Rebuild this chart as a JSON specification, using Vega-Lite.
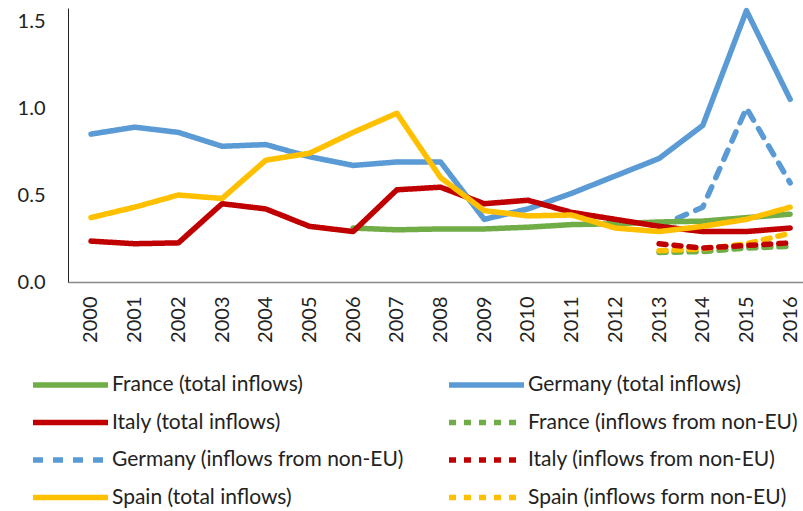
{
  "$schema": "https://vega.github.io/schema/vega-lite/v6.json",
  "width": 735,
  "height": 274,
  "autosize": {"type": "none"},
  "padding": {"left": 68, "top": 8, "right": 0, "bottom": 229},
  "background": "white",
  "config": {
    "view": {"stroke": null},
    "font": "Lato",
    "axis": {"labelFont": "Lato", "labelColor": "#222", "grid": false, "ticks": false, "title": null}
  },
  "data": {
    "values": [
      {"year": 2000, "series": "Germany (total inflows)", "value": 0.85},
      {"year": 2001, "series": "Germany (total inflows)", "value": 0.89},
      {"year": 2002, "series": "Germany (total inflows)", "value": 0.86},
      {"year": 2003, "series": "Germany (total inflows)", "value": 0.78},
      {"year": 2004, "series": "Germany (total inflows)", "value": 0.79},
      {"year": 2005, "series": "Germany (total inflows)", "value": 0.72},
      {"year": 2006, "series": "Germany (total inflows)", "value": 0.67},
      {"year": 2007, "series": "Germany (total inflows)", "value": 0.69},
      {"year": 2008, "series": "Germany (total inflows)", "value": 0.69},
      {"year": 2009, "series": "Germany (total inflows)", "value": 0.36},
      {"year": 2010, "series": "Germany (total inflows)", "value": 0.42},
      {"year": 2011, "series": "Germany (total inflows)", "value": 0.51},
      {"year": 2012, "series": "Germany (total inflows)", "value": 0.61},
      {"year": 2013, "series": "Germany (total inflows)", "value": 0.71},
      {"year": 2014, "series": "Germany (total inflows)", "value": 0.90},
      {"year": 2015, "series": "Germany (total inflows)", "value": 1.56},
      {"year": 2016, "series": "Germany (total inflows)", "value": 1.05},

      {"year": 2013, "series": "Germany (inflows from non-EU)", "value": 0.32},
      {"year": 2014, "series": "Germany (inflows from non-EU)", "value": 0.43},
      {"year": 2015, "series": "Germany (inflows from non-EU)", "value": 1.0},
      {"year": 2016, "series": "Germany (inflows from non-EU)", "value": 0.57},

      {"year": 2006, "series": "France (total inflows)", "value": 0.31},
      {"year": 2007, "series": "France (total inflows)", "value": 0.30},
      {"year": 2008, "series": "France (total inflows)", "value": 0.305},
      {"year": 2009, "series": "France (total inflows)", "value": 0.305},
      {"year": 2010, "series": "France (total inflows)", "value": 0.315},
      {"year": 2011, "series": "France (total inflows)", "value": 0.33},
      {"year": 2012, "series": "France (total inflows)", "value": 0.335},
      {"year": 2013, "series": "France (total inflows)", "value": 0.345},
      {"year": 2014, "series": "France (total inflows)", "value": 0.35},
      {"year": 2015, "series": "France (total inflows)", "value": 0.37},
      {"year": 2016, "series": "France (total inflows)", "value": 0.39},

      {"year": 2000, "series": "Italy (total inflows)", "value": 0.235},
      {"year": 2001, "series": "Italy (total inflows)", "value": 0.22},
      {"year": 2002, "series": "Italy (total inflows)", "value": 0.225},
      {"year": 2003, "series": "Italy (total inflows)", "value": 0.45},
      {"year": 2004, "series": "Italy (total inflows)", "value": 0.42},
      {"year": 2005, "series": "Italy (total inflows)", "value": 0.32},
      {"year": 2006, "series": "Italy (total inflows)", "value": 0.29},
      {"year": 2007, "series": "Italy (total inflows)", "value": 0.53},
      {"year": 2008, "series": "Italy (total inflows)", "value": 0.545},
      {"year": 2009, "series": "Italy (total inflows)", "value": 0.45},
      {"year": 2010, "series": "Italy (total inflows)", "value": 0.47},
      {"year": 2011, "series": "Italy (total inflows)", "value": 0.40},
      {"year": 2012, "series": "Italy (total inflows)", "value": 0.36},
      {"year": 2013, "series": "Italy (total inflows)", "value": 0.32},
      {"year": 2014, "series": "Italy (total inflows)", "value": 0.29},
      {"year": 2015, "series": "Italy (total inflows)", "value": 0.29},
      {"year": 2016, "series": "Italy (total inflows)", "value": 0.31},

      {"year": 2000, "series": "Spain (total inflows)", "value": 0.37},
      {"year": 2001, "series": "Spain (total inflows)", "value": 0.43},
      {"year": 2002, "series": "Spain (total inflows)", "value": 0.50},
      {"year": 2003, "series": "Spain (total inflows)", "value": 0.48},
      {"year": 2004, "series": "Spain (total inflows)", "value": 0.70},
      {"year": 2005, "series": "Spain (total inflows)", "value": 0.74},
      {"year": 2006, "series": "Spain (total inflows)", "value": 0.86},
      {"year": 2007, "series": "Spain (total inflows)", "value": 0.97},
      {"year": 2008, "series": "Spain (total inflows)", "value": 0.60},
      {"year": 2009, "series": "Spain (total inflows)", "value": 0.41},
      {"year": 2010, "series": "Spain (total inflows)", "value": 0.38},
      {"year": 2011, "series": "Spain (total inflows)", "value": 0.385},
      {"year": 2012, "series": "Spain (total inflows)", "value": 0.31},
      {"year": 2013, "series": "Spain (total inflows)", "value": 0.29},
      {"year": 2014, "series": "Spain (total inflows)", "value": 0.32},
      {"year": 2015, "series": "Spain (total inflows)", "value": 0.36},
      {"year": 2016, "series": "Spain (total inflows)", "value": 0.43},

      {"year": 2013, "series": "France (inflows from non-EU)", "value": 0.17},
      {"year": 2014, "series": "France (inflows from non-EU)", "value": 0.175},
      {"year": 2015, "series": "France (inflows from non-EU)", "value": 0.195},
      {"year": 2016, "series": "France (inflows from non-EU)", "value": 0.205},

      {"year": 2013, "series": "Spain (inflows form non-EU)", "value": 0.18},
      {"year": 2014, "series": "Spain (inflows form non-EU)", "value": 0.19},
      {"year": 2015, "series": "Spain (inflows form non-EU)", "value": 0.22},
      {"year": 2016, "series": "Spain (inflows form non-EU)", "value": 0.28},

      {"year": 2013, "series": "Italy (inflows from non-EU)", "value": 0.22},
      {"year": 2014, "series": "Italy (inflows from non-EU)", "value": 0.195},
      {"year": 2015, "series": "Italy (inflows from non-EU)", "value": 0.21},
      {"year": 2016, "series": "Italy (inflows from non-EU)", "value": 0.225}
    ]
  },
  "mark": {"type": "line", "strokeCap": "round", "strokeJoin": "round"},
  "encoding": {
    "x": {
      "field": "year", "type": "quantitative",
      "scale": {"domain": [1999.474, 2016.294], "nice": false, "zero": false},
      "axis": {
        "values": [2000, 2001, 2002, 2003, 2004, 2005, 2006, 2007, 2008, 2009, 2010, 2011, 2012, 2013, 2014, 2015, 2016],
        "format": "d", "labelAngle": -90, "labelFontSize": 20, "labelPadding": 14,
        "domainColor": "#888", "domainWidth": 1.5, "labelFlush": false, "labelOverlap": false
      }
    },
    "y": {
      "field": "value", "type": "quantitative",
      "scale": {"domain": [0, 1.575], "nice": false},
      "axis": {
        "values": [0, 0.5, 1.0, 1.5], "format": ".1f", "labelFontSize": 20,
        "labelPadding": 23, "domainColor": "#222", "domainWidth": 1, "labelFlush": false
      }
    },
    "color": {
      "field": "series", "type": "nominal",
      "scale": {
        "domain": ["France (total inflows)", "Italy (total inflows)", "Germany (inflows from non-EU)", "Spain (total inflows)", "Germany (total inflows)", "France (inflows from non-EU)", "Italy (inflows from non-EU)", "Spain (inflows form non-EU)"],
        "range": ["#70AD47", "#C00000", "#5B9BD5", "#FFC000", "#5B9BD5", "#70AD47", "#C00000", "#FFC000"]
      },
      "legend": {
        "title": null, "orient": "none", "legendX": -38, "legendY": 367,
        "columns": 2, "columnPadding": 42, "rowPadding": 16.5, "clipHeight": 20,
        "symbolType": "stroke", "symbolSize": 5625, "labelFontSize": 21, "labelColor": "#222",
        "labelOffset": 1, "labelLimit": 400, "gridAlign": "each"
      }
    },
    "strokeDash": {
      "field": "series", "type": "nominal",
      "scale": {
        "domain": ["France (total inflows)", "Italy (total inflows)", "Germany (inflows from non-EU)", "Spain (total inflows)", "Germany (total inflows)", "France (inflows from non-EU)", "Italy (inflows from non-EU)", "Spain (inflows form non-EU)"],
        "range": [[1, 0], [1, 0], [10, 10], [1, 0], [1, 0], [7, 8], [7, 8], [7, 8]]
      },
      "legend": {
        "title": null, "orient": "none", "legendX": -38, "legendY": 367,
        "columns": 2, "columnPadding": 42, "rowPadding": 16.5, "clipHeight": 20,
        "symbolType": "stroke", "symbolSize": 5625, "labelFontSize": 21, "labelColor": "#222",
        "labelOffset": 1, "labelLimit": 400, "gridAlign": "each"
      }
    },
    "strokeWidth": {
      "field": "series", "type": "nominal",
      "scale": {
        "domain": ["France (total inflows)", "Italy (total inflows)", "Germany (inflows from non-EU)", "Spain (total inflows)", "Germany (total inflows)", "France (inflows from non-EU)", "Italy (inflows from non-EU)", "Spain (inflows form non-EU)"],
        "range": [5.5, 5.5, 4, 5.5, 5.5, 4, 4, 4]
      },
      "legend": {
        "title": null, "orient": "none", "legendX": -38, "legendY": 367,
        "columns": 2, "columnPadding": 42, "rowPadding": 16.5, "clipHeight": 20,
        "symbolType": "stroke", "symbolSize": 5625, "labelFontSize": 21, "labelColor": "#222",
        "labelOffset": 1, "labelLimit": 400, "gridAlign": "each"
      }
    }
  }
}
